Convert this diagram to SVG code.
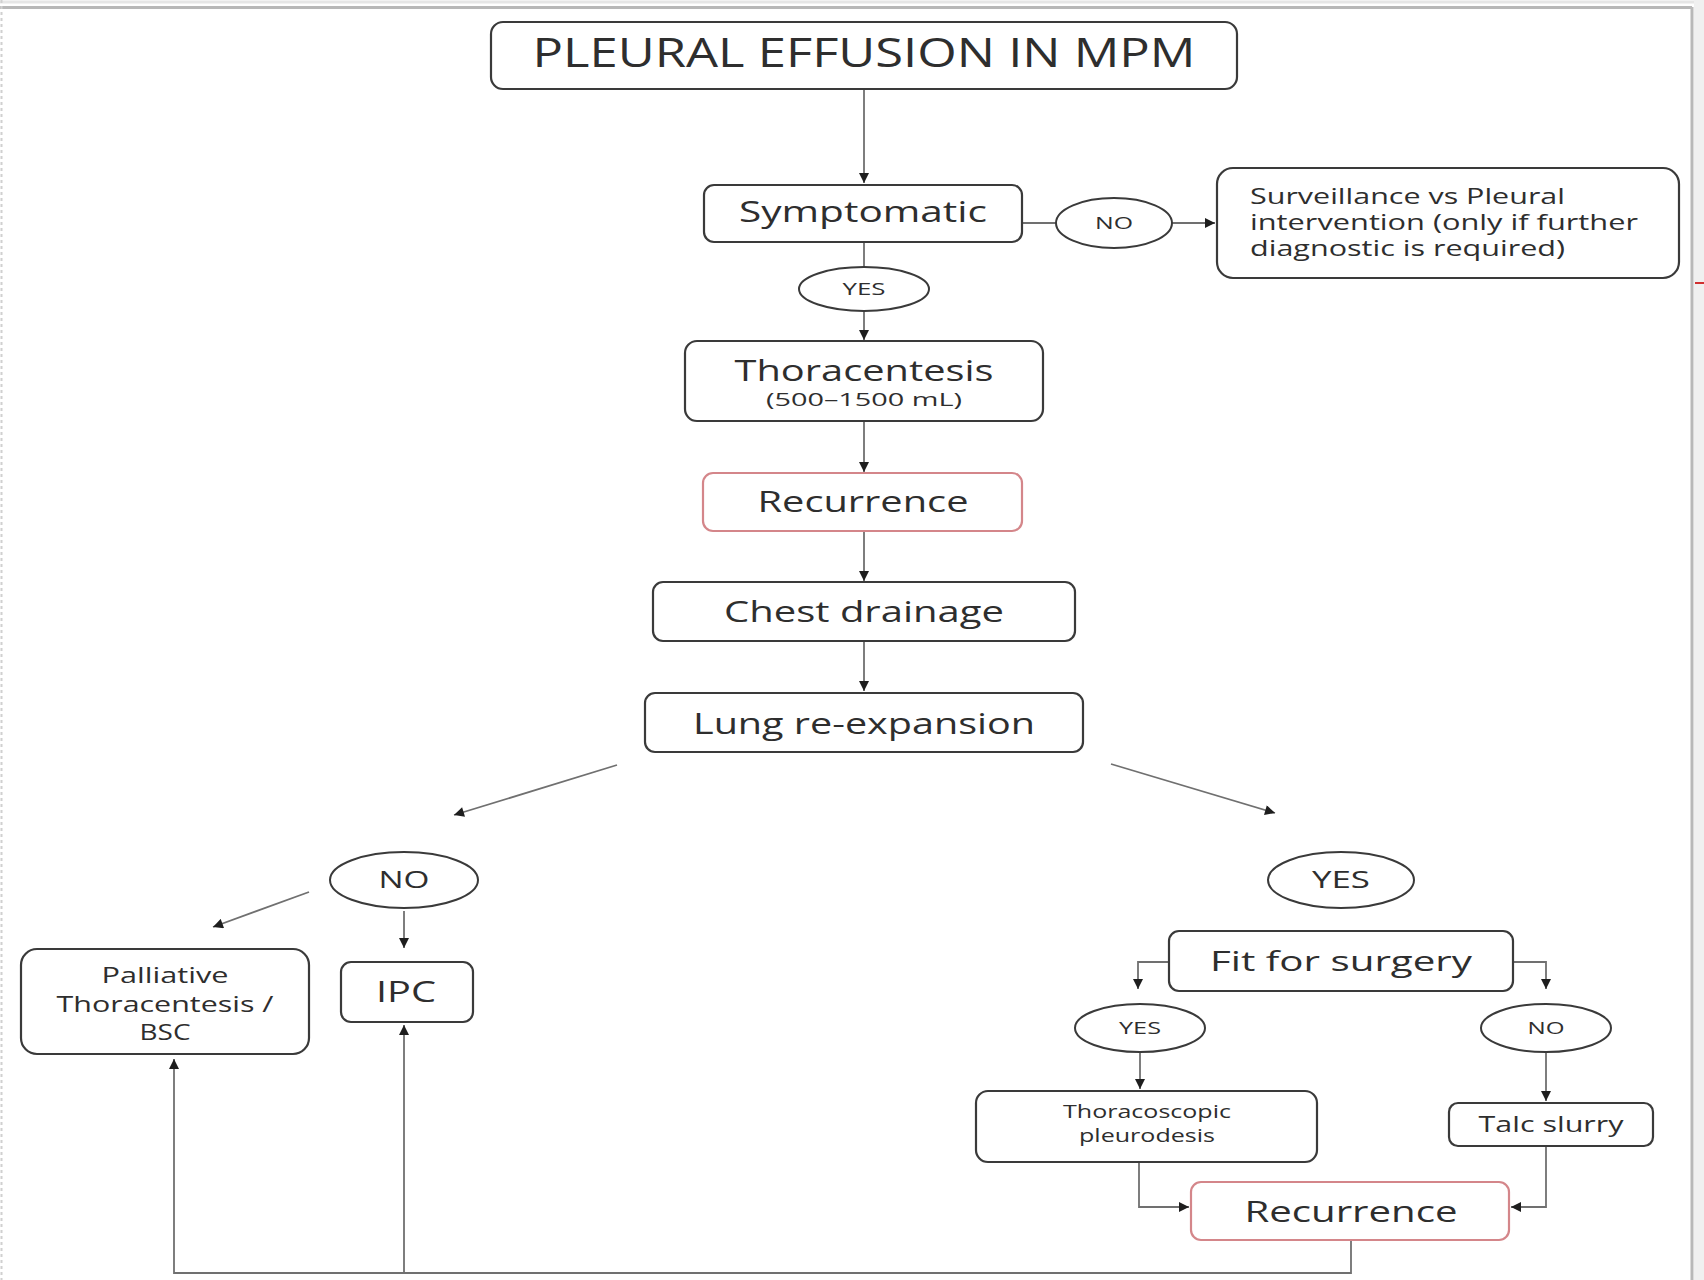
<svg xmlns="http://www.w3.org/2000/svg" width="1704" height="1280" viewBox="0 0 1704 1280">
<style>
.box{fill:#fff;stroke:#3a3a3a;stroke-width:2.2}
.red{fill:#fff;stroke:#d4868a;stroke-width:2.2}
.ell{fill:#fff;stroke:#3a3a3a;stroke-width:2}
.con{fill:none;stroke:#707070;stroke-width:1.8}
text{font-family:"Open Sans","Liberation Sans",sans-serif;fill:#2e2e2e;text-anchor:middle}
.l{text-anchor:start}
</style>
<defs>
<marker id="ah" viewBox="0 0 10 10" refX="10" refY="5" markerWidth="11" markerHeight="10" markerUnits="userSpaceOnUse" orient="auto">
<path d="M0,0 L10,5 L0,10 z" fill="#1e1e1e"/>
</marker>
</defs>
<rect width="1704" height="1280" fill="#fff"/>
<g id="frame">
<line x1="0" y1="2" x2="1704" y2="2" stroke="#e6e6e6" stroke-width="3"/>
<line x1="0" y1="7.5" x2="1692" y2="7.5" stroke="#b8b8b8" stroke-width="3"/>
<line x1="1692" y1="7" x2="1692" y2="1280" stroke="#b8b8b8" stroke-width="3"/>
<rect x="1694" y="0" width="10" height="1280" fill="#f0f0f0"/>
<line x1="1.5" y1="0" x2="1.5" y2="1280" stroke="#d0d0d0" stroke-width="2" stroke-dasharray="3 3"/>
<line x1="1695" y1="283" x2="1704" y2="283" stroke="#d03030" stroke-width="2"/>
</g>
<g id="connectors">
<path class="con" d="M864,89 V183" marker-end="url(#ah)"/>
<path class="con" d="M1022,223 H1056"/>
<path class="con" d="M1172,223 H1215" marker-end="url(#ah)"/>
<path class="con" d="M864,242 V267"/>
<path class="con" d="M864,311 V340" marker-end="url(#ah)"/>
<path class="con" d="M864,421 V472" marker-end="url(#ah)"/>
<path class="con" d="M864,531 V581" marker-end="url(#ah)"/>
<path class="con" d="M864,641 V691" marker-end="url(#ah)"/>
<path class="con" d="M617,765 L454,815" marker-end="url(#ah)"/>
<path class="con" d="M1111,764 L1275,813" marker-end="url(#ah)"/>
<path class="con" d="M309,892 L213,927" marker-end="url(#ah)"/>
<path class="con" d="M404,911 V948" marker-end="url(#ah)"/>
<path class="con" d="M1169,962 H1138 V989" marker-end="url(#ah)"/>
<path class="con" d="M1513,962 H1546 V989" marker-end="url(#ah)"/>
<path class="con" d="M1140,1052 V1089" marker-end="url(#ah)"/>
<path class="con" d="M1546,1052 V1101" marker-end="url(#ah)"/>
<path class="con" d="M1139,1162 V1207 H1189" marker-end="url(#ah)"/>
<path class="con" d="M1546,1146 V1207 H1511" marker-end="url(#ah)"/>
<path class="con" d="M1351,1240 V1273 H174 V1059" marker-end="url(#ah)"/>
<path class="con" d="M404,1273 V1025" marker-end="url(#ah)"/>
</g>
<g id="title">
<rect class="box" x="491" y="22" width="746" height="67" rx="12"/>
<text x="864" y="67" font-size="40" textLength="663" lengthAdjust="spacingAndGlyphs">PLEURAL EFFUSION IN MPM</text>
</g>
<g id="symptomatic">
<rect class="box" x="704" y="185" width="318" height="57" rx="10"/>
<text x="863" y="222" font-size="29" textLength="248" lengthAdjust="spacingAndGlyphs">Symptomatic</text>
</g>
<g id="no-top">
<ellipse class="ell" cx="1114" cy="223" rx="58" ry="25"/>
<text x="1114" y="229" font-size="16" textLength="38" lengthAdjust="spacingAndGlyphs">NO</text>
</g>
<g id="surveillance">
<rect class="box" x="1217" y="168" width="462" height="110" rx="16"/>
<text class="l" x="1250" y="204" font-size="21" textLength="315" lengthAdjust="spacingAndGlyphs">Surveillance vs Pleural</text>
<text class="l" x="1250" y="230" font-size="21" textLength="388" lengthAdjust="spacingAndGlyphs">intervention (only if further</text>
<text class="l" x="1250" y="256" font-size="21" textLength="315" lengthAdjust="spacingAndGlyphs">diagnostic is required)</text>
</g>
<g id="yes-top">
<ellipse class="ell" cx="864" cy="289" rx="65" ry="22"/>
<text x="864" y="295" font-size="16" textLength="43" lengthAdjust="spacingAndGlyphs">YES</text>
</g>
<g id="thoracentesis">
<rect class="box" x="685" y="341" width="358" height="80" rx="12"/>
<text x="864" y="381" font-size="29" textLength="259" lengthAdjust="spacingAndGlyphs">Thoracentesis</text>
<text x="864" y="406" font-size="19" textLength="196" lengthAdjust="spacingAndGlyphs">(500–1500 mL)</text>
</g>
<g id="recurrence-1">
<rect class="red" x="703" y="473" width="319" height="58" rx="10"/>
<text x="863" y="512" font-size="29" textLength="211" lengthAdjust="spacingAndGlyphs">Recurrence</text>
</g>
<g id="chest-drainage">
<rect class="box" x="653" y="582" width="422" height="59" rx="10"/>
<text x="864" y="622" font-size="29" textLength="280" lengthAdjust="spacingAndGlyphs">Chest drainage</text>
</g>
<g id="lung-reexpansion">
<rect class="box" x="645" y="693" width="438" height="59" rx="10"/>
<text x="864" y="734" font-size="29" textLength="342" lengthAdjust="spacingAndGlyphs">Lung re-expansion</text>
</g>
<g id="no-left">
<ellipse class="ell" cx="404" cy="880" rx="74" ry="28"/>
<text x="404" y="888" font-size="23" textLength="51" lengthAdjust="spacingAndGlyphs">NO</text>
</g>
<g id="yes-right">
<ellipse class="ell" cx="1341" cy="880" rx="73" ry="28"/>
<text x="1341" y="888" font-size="23" textLength="58" lengthAdjust="spacingAndGlyphs">YES</text>
</g>
<g id="palliative">
<rect class="box" x="21" y="949" width="288" height="105" rx="16"/>
<text x="165" y="983" font-size="21" textLength="127" lengthAdjust="spacingAndGlyphs">Palliative</text>
<text x="165" y="1012" font-size="21" textLength="217" lengthAdjust="spacingAndGlyphs">Thoracentesis /</text>
<text x="165" y="1040" font-size="21" textLength="51" lengthAdjust="spacingAndGlyphs">BSC</text>
</g>
<g id="ipc">
<rect class="box" x="341" y="962" width="132" height="60" rx="10"/>
<text x="406" y="1002" font-size="29" textLength="60" lengthAdjust="spacingAndGlyphs">IPC</text>
</g>
<g id="fit-for-surgery">
<rect class="box" x="1169" y="931" width="344" height="60" rx="10"/>
<text x="1341" y="971" font-size="28" textLength="262" lengthAdjust="spacingAndGlyphs">Fit for surgery</text>
</g>
<g id="yes-small">
<ellipse class="ell" cx="1140" cy="1028" rx="65" ry="24"/>
<text x="1140" y="1034" font-size="16" textLength="42" lengthAdjust="spacingAndGlyphs">YES</text>
</g>
<g id="no-small">
<ellipse class="ell" cx="1546" cy="1028" rx="65" ry="24"/>
<text x="1546" y="1034" font-size="16" textLength="37" lengthAdjust="spacingAndGlyphs">NO</text>
</g>
<g id="thoracoscopic">
<rect class="box" x="976" y="1091" width="341" height="71" rx="12"/>
<text x="1147" y="1118" font-size="18" textLength="168" lengthAdjust="spacingAndGlyphs">Thoracoscopic</text>
<text x="1147" y="1142" font-size="18" textLength="136" lengthAdjust="spacingAndGlyphs">pleurodesis</text>
</g>
<g id="talc-slurry">
<rect class="box" x="1449" y="1103" width="204" height="43" rx="9"/>
<text x="1551" y="1132" font-size="21" textLength="145" lengthAdjust="spacingAndGlyphs">Talc slurry</text>
</g>
<g id="recurrence-2">
<rect class="red" x="1191" y="1182" width="318" height="58" rx="10"/>
<text x="1351" y="1222" font-size="29" textLength="213" lengthAdjust="spacingAndGlyphs">Recurrence</text>
</g>
</svg>
